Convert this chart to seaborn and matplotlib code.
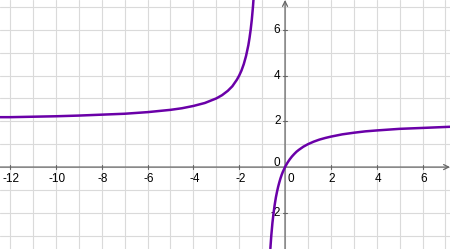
import pandas as pd
import matplotlib
matplotlib.use("Agg")
import matplotlib.pyplot as plt
import seaborn as sns

# Points: left branch (above y = 2)
left_x = [-12.44, -12, -11, -10, -9, -8, -7, -6, -5, -4.5, -4, -3.5, -3, -2.75, -2.5,
          -2.3, -2.1, -2.0, -1.9, -1.8, -1.7, -1.6, -1.55, -1.5, -1.45, -1.4, -1.37]
left_y = [2.18, 2.18, 2.2, 2.22, 2.25, 2.29, 2.33, 2.4, 2.5, 2.57, 2.67, 2.8, 3.0, 3.14, 3.33,
          3.53, 3.82, 4.0, 4.22, 4.5, 4.86, 5.33, 5.64, 6.0, 6.44, 7.0, 7.41]
# right branch (through the origin, below y = 2)
right_x = [-0.64, -0.6, -0.55, -0.5, -0.45, -0.4, -0.35, -0.3, -0.25, -0.2, -0.15, -0.1, -0.05,
           0, 0.1, 0.2, 0.3, 0.4, 0.5, 0.6, 0.8, 1.0, 1.25, 1.5, 1.75, 2.0, 2.5, 3.0, 3.5,
           4.0, 5.0, 6.0, 7.2]
right_y = [-3.56, -3.0, -2.44, -2.0, -1.64, -1.33, -1.08, -0.86, -0.67, -0.5, -0.35, -0.22, -0.11,
           0, 0.18, 0.33, 0.46, 0.57, 0.67, 0.75, 0.89, 1.0, 1.11, 1.2, 1.27, 1.33, 1.43, 1.5, 1.56,
           1.6, 1.67, 1.71, 1.76]

x_ticks = [-12, -10, -8, -6, -4, -2, 2, 4, 6]
y_ticks = [-2, 2, 4, 6]
x_range = (-12.44, 7.2)
y_range = (-3.58, 7.3)

sns.set_theme(style="white")
plt.rcParams['font.family'] = ['Liberation Sans', 'DejaVu Sans']

left = pd.DataFrame({"x": left_x, "y": left_y})
right = pd.DataFrame({"x": right_x, "y": right_y})

fig = plt.figure(figsize=(4.5, 2.49), dpi=100)
ax = fig.add_axes([0, 0, 1, 1])
ax.set_xlim(*x_range)
ax.set_ylim(*y_range)

# grid every unit
for gx in range(-12, 8):
    ax.axvline(gx, color="#dadada", lw=0.8, zorder=0)
for gy in range(-3, 8):
    ax.axhline(gy, color="#dadada", lw=0.8, zorder=0)

axis_col = "#666666"
ax.annotate("", xy=(x_range[1], 0), xytext=(x_range[0], 0),
            arrowprops=dict(arrowstyle="->", color=axis_col, lw=0.9,
                            shrinkA=0, shrinkB=0, mutation_scale=9), zorder=2)
ax.annotate("", xy=(0, y_range[1]), xytext=(0, y_range[0]),
            arrowprops=dict(arrowstyle="->", color=axis_col, lw=0.9,
                            shrinkA=0, shrinkB=0, mutation_scale=9), zorder=2)

# tick marks and labels
for t in x_ticks:
    ax.plot([t, t], [-0.1, 0.1], color=axis_col, lw=0.8, zorder=2)
    ax.text(t + 0.05, -0.25, str(t), ha="center", va="top", fontsize=8.5, color="black")
for t in y_ticks:
    ax.plot([-0.1, 0.1], [t, t], color=axis_col, lw=0.8, zorder=2)
    ax.text(-0.2, t, str(t), ha="right", va="center", fontsize=8.5, color="black")
ax.text(-0.2, 0.18, "0", ha="right", va="center", fontsize=8.5, color="black")
ax.text(0.25, -0.25, "0", ha="center", va="top", fontsize=8.5, color="black")

sns.lineplot(data=left, x="x", y="y", ax=ax, color="#6a00a8", lw=1.8, sort=False, zorder=3)
sns.lineplot(data=right, x="x", y="y", ax=ax, color="#6a00a8", lw=1.8, sort=False, zorder=3)

ax.set_xlim(*x_range)
ax.set_ylim(*y_range)
ax.set_xticks([])
ax.set_yticks([])
ax.set_xlabel("")
ax.set_ylabel("")
for s in ax.spines.values():
    s.set_visible(False)

fig.savefig("out.png", dpi=100, facecolor="white")
